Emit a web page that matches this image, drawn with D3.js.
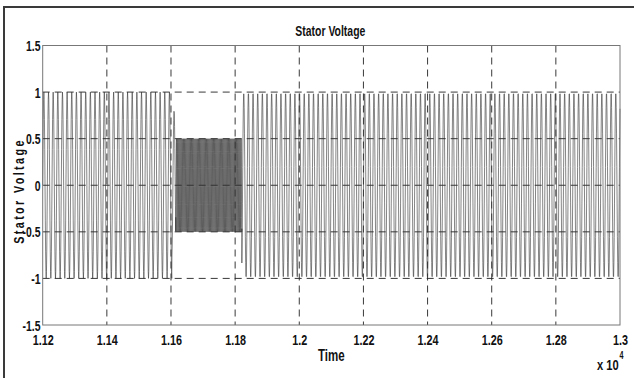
<!DOCTYPE html>
<html>
<head>
<meta charset="utf-8">
<script src="https://cdn.jsdelivr.net/npm/d3@7"></script>
<style>
  html, body { margin: 0; padding: 0; background: #fff; }
  svg { display: block; }
  text { font-family: "Liberation Sans", Arial, sans-serif; font-weight: bold; fill: #111; }
</style>
</head>
<body>
<svg id="chart" width="634" height="378"></svg>
<script>
// Time axis is in units of 10^4 (see the "x 10^4" exponent label)
const xTicks = [1.12, 1.14, 1.16, 1.18, 1.2, 1.22, 1.24, 1.26, 1.28, 1.3];
const xTickLabels = ["1.12", "1.14", "1.16", "1.18", "1.2", "1.22", "1.24", "1.26", "1.28", "1.3"];
const yTicks = [-1.5, -1, -0.5, 0, 0.5, 1, 1.5];
const yTickLabels = ["-1.5", "-1", "-0.5", "0", "0.5", "1", "1.5"];

// Stator voltage waveform, described piecewise: each segment is a sinusoid
// with its own peak amplitude and period (voltage sag between ~1.1615 and ~1.1821)
const segStart  = [1.1200, 1.1603, 1.1615, 1.1821];
const segEnd    = [1.1603, 1.1615, 1.1821, 1.3000];
const segAmp    = [1.0,    0.8,    0.5,    1.0];
const segPeriod = [0.00145, 0.00145, 0.00036, 0.00145];

const svg = d3.select("#chart");
const margin = { left: 42.7, right: 14, top: 45.5, bottom: 53 };
const W = 634, H = 378;
const SQ = 0.72; // horizontal squeeze for the condensed lettering

const x = d3.scaleLinear().domain([1.12, 1.3]).range([margin.left, W - margin.right]);
const y = d3.scaleLinear().domain([-1.5, 1.5]).range([H - margin.bottom, margin.top]);

// figure frame (top and left edges)
svg.append("path")
  .attr("d", `M4,${H} L4,7 L${W},7`)
  .attr("fill", "none")
  .attr("stroke", "#3a3a3a")
  .attr("stroke-width", 2);

// dashed grid
const grid = svg.append("g").attr("class", "grid");
grid.selectAll("line.v").data(xTicks.slice(1, -1)).join("line")
  .attr("x1", d => x(d)).attr("x2", d => x(d))
  .attr("y1", y(1.5)).attr("y2", y(-1.5))
  .attr("stroke", "#222").attr("stroke-width", 0.9)
  .attr("stroke-dasharray", "7,5");
grid.selectAll("line.h").data(yTicks.slice(1, -1)).join("line")
  .attr("x1", x(1.12)).attr("x2", x(1.3))
  .attr("y1", d => y(d)).attr("y2", d => y(d))
  .attr("stroke", "#222").attr("stroke-width", 0.9)
  .attr("stroke-dasharray", "7,5");

// build sampled waveform from the segment parameters
const pts = [];
let phase = 0;
segStart.forEach((s, i) => {
  const e = segEnd[i], p = segPeriod[i], a = segAmp[i];
  const step = p / 16;
  for (let t = s; t < e; t += step) {
    pts.push([t, a * Math.sin(phase + 2 * Math.PI * (t - s) / p)]);
  }
  phase += 2 * Math.PI * (e - s) / p;
});
pts.push([1.3, segAmp[3] * Math.sin(phase)]);

svg.append("path")
  .datum(pts)
  .attr("fill", "none")
  .attr("stroke", "#333")
  .attr("stroke-width", 0.6)
  .attr("d", d3.line().x(d => x(d[0])).y(d => y(d[1])));

// axes box
svg.append("rect")
  .attr("x", x(1.12)).attr("y", y(1.5))
  .attr("width", x(1.3) - x(1.12)).attr("height", y(-1.5) - y(1.5))
  .attr("fill", "none").attr("stroke", "#777").attr("stroke-width", 1);

// axes
const xAxis = svg.append("g")
  .attr("transform", `translate(0,${y(-1.5)})`)
  .call(d3.axisBottom(x).tickValues(xTicks).tickFormat((d, i) => xTickLabels[i]).tickSize(0));
xAxis.selectAll("text").attr("y", 20).attr("dy", 0).attr("font-size", 15);
const yAxis = svg.append("g")
  .attr("transform", `translate(${x(1.12)},0)`)
  .call(d3.axisLeft(y).tickValues(yTicks).tickFormat((d, i) => yTickLabels[i]).tickSize(0).tickPadding(3));
yAxis.selectAll("text").attr("font-size", 14.5).attr("dy", "0.35em");
[xAxis, yAxis].forEach(g => {
  g.select(".domain").remove();
  g.attr("font-family", null).attr("font-size", null);
  g.selectAll("text").attr("fill", "#111").attr("transform", `scale(${SQ},1)`);
});

// title
svg.append("text")
  .attr("transform", `translate(${(x(1.12) + x(1.3)) / 2 - 1},35.5) scale(${SQ},1)`)
  .attr("text-anchor", "middle").attr("font-size", 14.5)
  .text("Stator Voltage");

// x label
svg.append("text")
  .attr("transform", `translate(${(x(1.12) + x(1.3)) / 2},361) scale(${SQ},1)`)
  .attr("text-anchor", "middle").attr("font-size", 16)
  .text("Time");

// exponent
const ex = svg.append("text")
  .attr("transform", `translate(597,369.5) scale(${SQ},1)`)
  .attr("font-size", 15.5);
ex.append("tspan").text("x 10");
ex.append("tspan").attr("dy", -11).attr("dx", 1).attr("font-size", 10).text("4");

// y label
svg.append("text")
  .attr("transform", `translate(23.5,191) rotate(-90) scale(${SQ},1)`)
  .attr("text-anchor", "middle").attr("font-size", 15)
  .attr("letter-spacing", 3.3)
  .text("Stator Voltage");
</script>
</body>
</html>
